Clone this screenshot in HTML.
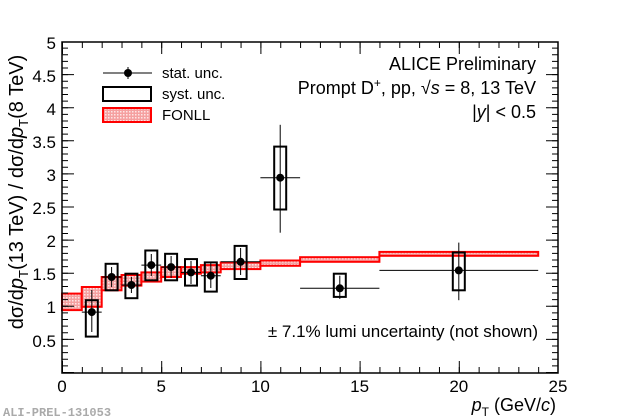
<!DOCTYPE html>
<html><head><meta charset="utf-8"><style>
html,body{margin:0;padding:0;background:#fff;width:620px;height:420px;overflow:hidden}
svg{display:block;font-family:"Liberation Sans",Arial,sans-serif}
</style></head><body>
<svg width="620" height="420" viewBox="0 0 620 420" xmlns="http://www.w3.org/2000/svg">
<defs>
<pattern id="hp" width="3" height="3" patternUnits="userSpaceOnUse">
<rect width="3" height="3" fill="#f5a0a0"/><rect width="1.5" height="1.5" fill="#fde6e6"/>
</pattern>
</defs>
<g fill="url(#hp)" stroke="#ff0000" stroke-width="2">
<rect x="62" y="293.6" width="19.8" height="16.5"/>
<rect x="81.8" y="287" width="19.9" height="19.8"/>
<rect x="101.7" y="277" width="19.8" height="13.3"/>
<rect x="121.5" y="275" width="19.9" height="10.6"/>
<rect x="141.4" y="272.4" width="19.8" height="9.2"/>
<rect x="161.2" y="267.1" width="19.8" height="9.9"/>
<rect x="181" y="267.1" width="19.9" height="6.6"/>
<rect x="200.9" y="265.1" width="19.8" height="7.3"/>
<rect x="220.7" y="262.5" width="39.7" height="6.6"/>
<rect x="260.4" y="260.5" width="39.7" height="5.3"/>
<rect x="300.1" y="257.2" width="79.3" height="4.6"/>
<rect x="379.4" y="251.9" width="158.8" height="3.9"/>
</g>
<g stroke="#000" stroke-width="1">
<line x1="81.8" y1="312.1" x2="101.7" y2="312.1"/><line x1="91.8" y1="332" x2="91.8" y2="290"/>
<line x1="101.7" y1="277" x2="121.5" y2="277"/><line x1="111.6" y1="287" x2="111.6" y2="267"/>
<line x1="121.5" y1="285" x2="141.4" y2="285"/><line x1="131.4" y1="293" x2="131.4" y2="277"/>
<line x1="141.4" y1="265.1" x2="161.2" y2="265.1"/><line x1="151.3" y1="276" x2="151.3" y2="254"/>
<line x1="161.2" y1="267.1" x2="181" y2="267.1"/><line x1="171.1" y1="278" x2="171.1" y2="256"/>
<line x1="181" y1="272.4" x2="200.9" y2="272.4"/><line x1="191" y1="284" x2="191" y2="261"/>
<line x1="200.9" y1="275.7" x2="220.7" y2="275.7"/><line x1="210.8" y1="288" x2="210.8" y2="263"/>
<line x1="220.7" y1="261.8" x2="260.4" y2="261.8"/><line x1="240.6" y1="275" x2="240.6" y2="248"/>
<line x1="260.4" y1="177.7" x2="300.1" y2="177.7"/><line x1="280.2" y1="232.7" x2="280.2" y2="124.8"/>
<line x1="300.1" y1="288.3" x2="379.4" y2="288.3"/><line x1="339.8" y1="298.9" x2="339.8" y2="275.7"/>
<line x1="379.4" y1="270.4" x2="538.2" y2="270.4"/><line x1="458.8" y1="300.2" x2="458.8" y2="242.6"/>
</g>
<g fill="none" stroke="#000" stroke-width="2">
<rect x="85.8" y="300.2" width="12" height="36.4"/>
<rect x="105.6" y="263.8" width="12" height="26.5"/>
<rect x="125.4" y="273.7" width="12" height="24.5"/>
<rect x="145.3" y="250.5" width="12" height="29.8"/>
<rect x="165.1" y="253.8" width="12" height="26.5"/>
<rect x="185" y="259.1" width="12" height="26.5"/>
<rect x="204.8" y="262.4" width="12" height="29.2"/>
<rect x="234.6" y="245.9" width="12" height="33.1"/>
<rect x="274.2" y="146.6" width="12" height="62.9"/>
<rect x="333.8" y="273.7" width="12" height="23.2"/>
<rect x="452.8" y="252.5" width="12" height="37.8"/>
</g>
<g fill="#000">
<circle cx="91.8" cy="312.1" r="4"/><circle cx="111.6" cy="277" r="4"/><circle cx="131.4" cy="285" r="4"/>
<circle cx="151.3" cy="265.1" r="4"/><circle cx="171.1" cy="267.1" r="4"/><circle cx="191" cy="272.4" r="4"/>
<circle cx="210.8" cy="275.7" r="4"/><circle cx="240.6" cy="261.8" r="4"/><circle cx="280.2" cy="177.7" r="4"/>
<circle cx="339.8" cy="288.3" r="4"/><circle cx="458.8" cy="270.4" r="4"/>
</g>
<rect x="62" y="42" width="496" height="331" fill="none" stroke="#000" stroke-width="1.5"/>
<g stroke="#000" stroke-width="1">
<line x1="65" y1="373" x2="65" y2="42" stroke-width="6" stroke-dasharray="1 5.62"/>
<line x1="68" y1="373" x2="68" y2="42" stroke-width="12" stroke-dasharray="1 32.1"/>
<line x1="555" y1="373" x2="555" y2="42" stroke-width="6" stroke-dasharray="1 5.62"/>
<line x1="552" y1="373" x2="552" y2="42" stroke-width="12" stroke-dasharray="1 32.1"/>
<line x1="62" y1="370" x2="558" y2="370" stroke-width="6" stroke-dasharray="1 18.84"/>
<line x1="62" y1="367" x2="558" y2="367" stroke-width="12" stroke-dasharray="1 98.2"/>
<line x1="62" y1="45" x2="558" y2="45" stroke-width="6" stroke-dasharray="1 18.84"/>
<line x1="62" y1="48" x2="558" y2="48" stroke-width="12" stroke-dasharray="1 98.2"/>
</g>
<g font-size="17" text-anchor="end" fill="#000">
<text x="56" y="347">0.5</text><text x="56" y="313">1</text><text x="56" y="280">1.5</text>
<text x="56" y="247">2</text><text x="56" y="214">2.5</text><text x="56" y="181">3</text>
<text x="56" y="148">3.5</text><text x="56" y="115">4</text><text x="56" y="82">4.5</text><text x="56" y="49">5</text>
</g>
<g font-size="17" text-anchor="middle">
<text x="62" y="392">0</text><text x="161.2" y="392">5</text><text x="260.4" y="392">10</text>
<text x="359.6" y="392">15</text><text x="458.8" y="392">20</text><text x="558" y="392">25</text>
</g>
<text x="556" y="411" font-size="18" text-anchor="end"><tspan font-style="italic">p</tspan><tspan font-size="12" dy="5">T</tspan><tspan dy="-5"> (GeV/</tspan><tspan font-style="italic">c</tspan>)</text>
<text transform="translate(23,192) rotate(-90)" font-size="20" text-anchor="middle" x="0">dσ/d<tspan font-style="italic">p</tspan><tspan font-size="13" dy="5">T</tspan><tspan dy="-5">(13 TeV) / dσ/d</tspan><tspan font-style="italic">p</tspan><tspan font-size="13" dy="5">T</tspan><tspan dy="-5">(8 TeV)</tspan></text>
<text x="536" y="70" font-size="18" text-anchor="end">ALICE Preliminary</text>
<text x="536" y="94" font-size="18" text-anchor="end">Prompt D<tspan font-size="12" dy="-7">+</tspan><tspan dy="7">, pp, √</tspan><tspan font-style="italic">s</tspan> = 8, 13 TeV</text>
<text x="536" y="118" font-size="18" text-anchor="end">|<tspan font-style="italic">y</tspan>| &lt; 0.5</text>
<text x="538" y="337" font-size="17" text-anchor="end">± 7.1% lumi uncertainty (not shown)</text>
<line x1="103" y1="73" x2="152" y2="73" stroke="#000"/><line x1="128" y1="67" x2="128" y2="79" stroke="#000"/>
<circle cx="128" cy="73" r="4"/>
<rect x="103" y="87" width="48" height="14" fill="none" stroke="#000" stroke-width="2"/>
<rect x="103" y="108" width="48" height="14" fill="url(#hp)" stroke="#ff0000" stroke-width="2"/>
<g font-size="15"><text x="162" y="78">stat. unc.</text><text x="162" y="99">syst. unc.</text><text x="162" y="120">FONLL</text></g>
<text x="3" y="416" font-family="Liberation Mono,monospace" font-size="12" fill="#aaa" font-weight="bold">ALI-PREL-131053</text>
</svg>
</body></html>
